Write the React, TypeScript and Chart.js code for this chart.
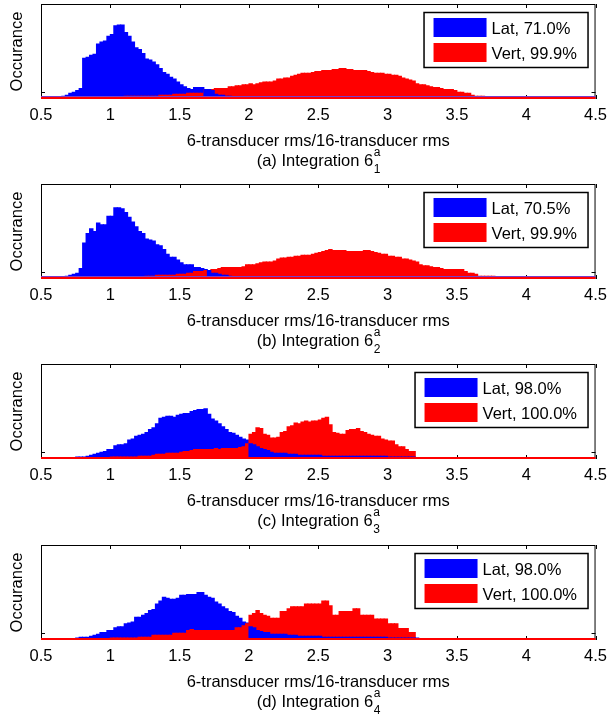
import React, { useEffect, useRef } from "react";
import { Chart, registerables } from "chart.js";

Chart.register(...registerables);

// Histogram bins: 160 bins of width 0.025 starting at 0.5
const BIN_START = 0.5;
const BIN_WIDTH = 0.025;
const N_BINS = 160;
const X_MIN = 0.5;
const X_MAX = 4.5;
const X_TICKS = [0.5, 1, 1.5, 2, 2.5, 3, 3.5, 4, 4.5];
const X_TICK_LABELS = ["0.5", "1", "1.5", "2", "2.5", "3", "3.5", "4", "4.5"];
const Y_MAX = 100;
const Y_TICKS = [7];

// Heights in percent of the axis height, one value per bin (trailing empty bins omitted)
const LAT_A = [
  0, 1, 1, 1, 2, 2, 3, 4, 6, 7, 9, 11, 43, 44, 46, 47, 58, 60, 61, 66,
  68, 77, 78, 78, 70, 66, 60, 54, 52, 48, 42, 41, 39, 36, 32, 28, 26, 23, 21, 18,
  15, 13, 11, 10, 12, 12, 12, 10, 10, 9, 5, 4, 4, 3, 3, 2, 2, 2, 2, 2,
  1, 1, 1, 1, 1, 1, 1, 1, 1,
];
const VERT_A = [
  1, 1, 1, 1, 1, 1, 1, 1, 1, 1, 1, 1, 1, 1, 1, 1, 2, 2, 2, 2,
  2, 2, 2, 2, 3, 3, 3, 3, 3, 3, 3, 3, 3, 3, 4, 4, 4, 4, 5, 5,
  5, 5, 6, 6, 6, 6, 6, 10, 10, 10, 11, 11, 11, 11, 13, 13, 14, 14, 15, 15,
  16, 15, 16, 17, 18, 18, 18, 19, 21, 21, 22, 22, 24, 25, 26, 27, 27, 27, 28, 29,
  29, 30, 30, 30, 31, 31, 32, 32, 31, 31, 30, 30, 30, 30, 29, 28, 27, 27, 27, 26,
  26, 25, 25, 24, 22, 21, 20, 19, 16, 15, 15, 14, 13, 12, 12, 11, 10, 10, 10, 9,
  7, 7, 6, 6, 4, 3, 3, 3, 2, 2, 2, 2, 2, 2, 2, 2, 1, 1, 1, 0,
];

const LAT_B = [
  1, 0, 0, 0, 1, 2, 2, 3, 4, 5, 6, 11, 38, 48, 53, 50, 59, 57, 57, 66,
  66, 75, 75, 74, 70, 65, 60, 55, 50, 48, 42, 41, 40, 36, 35, 31, 26, 23, 23, 20,
  17, 15, 15, 15, 12, 12, 11, 10, 9, 6, 6, 5, 4, 4, 3, 2, 2, 2, 2, 2,
  2, 2, 1, 1, 1, 1, 0, 0, 1, 1,
];
const VERT_B = [
  1, 1, 1, 1, 1, 1, 1, 1, 1, 1, 1, 1, 1, 1, 1, 1, 1, 1, 1, 1,
  2, 2, 2, 2, 2, 2, 2, 2, 2, 2, 3, 3, 3, 4, 4, 4, 4, 4, 4, 5,
  5, 5, 6, 6, 8, 8, 8, 9, 9, 10, 10, 11, 12, 12, 12, 12, 12, 12, 13, 15,
  15, 15, 16, 17, 18, 18, 18, 19, 21, 22, 22, 23, 23, 24, 24, 25, 25, 25, 26, 27,
  28, 29, 30, 31, 30, 30, 30, 30, 29, 29, 29, 29, 29, 30, 30, 29, 28, 27, 26, 26,
  24, 24, 23, 23, 21, 21, 20, 19, 18, 15, 14, 14, 13, 12, 12, 11, 10, 10, 10, 10,
  10, 10, 8, 6, 6, 5, 3, 3, 3, 3, 3, 2, 2, 2, 2, 2, 2, 2, 2, 2,
  1, 1, 1, 1, 1, 1, 1, 1, 1, 1, 1, 1,
];

const LAT_C = [
  0, 0, 0, 0, 0, 0, 0, 0, 0, 0, 2, 2, 2, 3, 4, 5, 6, 7, 8, 10,
  10, 14, 15, 15, 16, 20, 21, 24, 25, 26, 28, 31, 33, 37, 43, 44, 45, 45, 44, 46,
  47, 48, 48, 50, 51, 52, 52, 53, 47, 42, 40, 37, 34, 31, 28, 27, 25, 23, 21, 20,
  16, 15, 13, 11, 10, 9, 7, 6, 6, 6, 6, 5, 5, 5, 4, 4, 4, 4, 4, 4,
  4, 3, 3, 3, 3, 3, 3, 3, 3, 3, 3, 3, 3, 3, 3, 3, 3, 3, 3, 3,
  2, 2, 2, 2, 2, 2, 2, 2, 1, 1, 1, 1, 1, 1, 1, 1, 1, 1, 1, 1,
  1, 1, 1, 1,
];
const VERT_C = [
  0, 0, 0, 0, 0, 0, 0, 0, 0, 0, 1, 1, 1, 1, 1, 1, 1, 1, 1, 1,
  2, 2, 2, 2, 2, 2, 2, 2, 3, 3, 3, 3, 4, 5, 5, 5, 6, 6, 6, 6,
  7, 8, 8, 9, 10, 10, 10, 10, 10, 10, 11, 10, 11, 11, 11, 11, 11, 12, 13, 16,
  26, 28, 33, 32, 26, 25, 22, 22, 23, 28, 29, 34, 35, 38, 37, 39, 40, 39, 40, 40,
  41, 43, 44, 36, 28, 27, 26, 26, 30, 31, 31, 32, 29, 28, 26, 25, 24, 24, 21, 20,
  19, 19, 15, 13, 13, 10, 8, 8,
];

const LAT_D = [
  0, 0, 0, 0, 0, 0, 0, 0, 0, 0, 2, 3, 3, 3, 4, 5, 6, 8, 8, 10,
  10, 13, 14, 14, 17, 18, 19, 24, 24, 26, 28, 31, 32, 38, 41, 45, 44, 43, 43, 44,
  47, 47, 48, 48, 48, 50, 50, 47, 45, 44, 40, 38, 35, 33, 30, 29, 25, 23, 19, 18,
  14, 13, 10, 9, 8, 8, 6, 6, 6, 6, 6, 5, 5, 5, 4, 4, 4, 4, 4, 4,
  4, 3, 3, 3, 3, 3, 3, 3, 3, 3, 3, 3, 3, 3, 3, 3, 3, 3, 3, 3,
  2, 2, 2, 2, 2, 2, 2, 2, 2, 1, 1, 1, 1, 1, 1, 1, 1, 1, 1, 1,
  1, 1, 1, 0, 1, 1,
];
const VERT_D = [
  0, 0, 0, 0, 0, 0, 0, 0, 0, 0, 1, 1, 1, 1, 1, 1, 1, 1, 1, 1,
  2, 2, 2, 2, 2, 2, 2, 2, 3, 3, 3, 3, 5, 5, 5, 5, 5, 5, 7, 7,
  7, 7, 10, 11, 10, 10, 10, 10, 10, 10, 10, 10, 10, 10, 10, 10, 13, 13, 15, 17,
  26, 28, 31, 28, 26, 25, 23, 23, 23, 30, 30, 33, 35, 35, 35, 35, 38, 38, 38, 38,
  38, 41, 41, 36, 26, 26, 30, 30, 30, 30, 33, 33, 26, 26, 26, 26, 22, 22, 22, 22,
  17, 17, 17, 12, 12, 12, 8, 8,
];

const LAT_SERIES = [LAT_A, LAT_B, LAT_C, LAT_D];
const VERT_SERIES = [VERT_A, VERT_B, VERT_C, VERT_D];
const SERIES_NAMES = ["Lat", "Vert"];
const LAT_SHARE = ["71.0%", "70.5%", "98.0%", "98.0%"];
const VERT_SHARE = ["99.9%", "99.9%", "100.0%", "100.0%"];
const PANEL_LETTERS = ["a", "b", "c", "d"];
const PANEL_SUBSCRIPTS = ["1", "2", "3", "4"];
const CAPTION_TEXT = "Integration 6";
const CAPTION_SUP = "a";
const X_TITLE = "6-transducer rms/16-transducer rms";
const Y_TITLE = "Occurance";

// Styling and placement
const BLUE = "#0000ff";
const RED = "#ff0000";
const FONT = '"Liberation Sans", Arial, Helvetica, sans-serif';
const FONT_SIZE = 16.5;
const SMALL_FONT_SIZE = 12;
const PANEL_TOPS = [0, 180, 360, 541];
const PANEL_HEIGHTS = [180, 180, 181, 175];
const PLOT_LEFT = 41;
const PLOT_RIGHT = 602;
const PLOT_TOP = 4;
const PLOT_HEIGHT = 95;
const TICK_LEN = 4;
const BASELINE_TINT = ["#7a3cc8", "#7a3cc8", null, null];

const fillBins = (arr: number[]) =>
  Array.from({ length: N_BINS }, (_, i) => (arr[i] !== undefined ? arr[i] : 0));

function makeDecor(idx: number) {
  return {
    id: "decor" + idx,
    beforeDatasetsDraw(chart: any) {
      const { ctx, chartArea, scales } = chart;
      const { left, right, top, bottom } = chartArea;
      ctx.save();
      ctx.strokeStyle = "#000";
      ctx.lineWidth = 1;
      ctx.beginPath();
      for (const t of scales.x.ticks) {
        const px = Math.round(scales.x.getPixelForValue(t.value)) + 0.5;
        ctx.moveTo(px, top);
        ctx.lineTo(px, top + TICK_LEN);
        ctx.moveTo(px, bottom);
        ctx.lineTo(px, bottom - TICK_LEN);
      }
      for (const v of Y_TICKS) {
        const py = Math.round(scales.y.getPixelForValue(v)) + 0.5;
        ctx.moveTo(left, py);
        ctx.lineTo(left + TICK_LEN, py);
        ctx.moveTo(right, py);
        ctx.lineTo(right - TICK_LEN, py);
      }
      ctx.stroke();
      ctx.restore();
    },
    afterDatasetsDraw(chart: any) {
      const { ctx, chartArea } = chart;
      const { left, right, top, bottom } = chartArea;
      ctx.save();
      // axes box
      ctx.strokeStyle = "#000";
      ctx.lineWidth = 1;
      ctx.strokeRect(left + 0.5, top + 0.5, right - left - 1, bottom - top - 1);
      // zero-height bins along the base
      const tint = BASELINE_TINT[idx];
      if (tint) {
        ctx.fillStyle = tint;
        ctx.fillRect(left, bottom - 3, right - left, 1);
      }
      ctx.fillStyle = RED;
      ctx.fillRect(left, bottom - 2, right - left, 2);

      // legend
      ctx.font = `${FONT_SIZE}px ${FONT}`;
      const labels = [
        `${SERIES_NAMES[0]}, ${LAT_SHARE[idx]}`,
        `${SERIES_NAMES[1]}, ${VERT_SHARE[idx]}`,
      ];
      const tw = Math.max(...labels.map((l) => ctx.measureText(l).width));
      const boxW = Math.round(10 + 53 + 5 + tw + 11);
      const bx = right - 8 - boxW;
      const by = top + 8;
      const bh = 55;
      ctx.fillStyle = "#fff";
      ctx.fillRect(bx, by, boxW, bh);
      ctx.lineWidth = 1.5;
      ctx.strokeStyle = "#000";
      ctx.strokeRect(bx + 0.5, by + 0.5, boxW, bh);
      const colors = [BLUE, RED];
      ctx.textAlign = "left";
      ctx.textBaseline = "middle";
      labels.forEach((l, k) => {
        ctx.fillStyle = colors[k];
        ctx.fillRect(bx + 10, by + 6 + 25 * k, 53, 19);
        ctx.fillStyle = "#000";
        ctx.fillText(l, bx + 68, by + 17 + 25 * k);
      });

      // axis titles and caption
      ctx.fillStyle = "#000";
      ctx.font = `${FONT_SIZE}px ${FONT}`;
      ctx.textAlign = "center";
      ctx.textBaseline = "middle";
      const cx = (left + right) / 2;
      ctx.fillText(X_TITLE, cx, bottom + 42.5);

      const main = `(${PANEL_LETTERS[idx]}) ${CAPTION_TEXT}`;
      const mw = ctx.measureText(main).width;
      ctx.font = `${SMALL_FONT_SIZE}px ${FONT}`;
      const sw = Math.max(
        ctx.measureText(CAPTION_SUP).width,
        ctx.measureText(PANEL_SUBSCRIPTS[idx]).width
      );
      const sx = cx - (mw + sw) / 2;
      const capY = bottom + 62.5;
      ctx.textAlign = "left";
      ctx.font = `${FONT_SIZE}px ${FONT}`;
      ctx.fillText(main, sx, capY);
      ctx.font = `${SMALL_FONT_SIZE}px ${FONT}`;
      ctx.fillText(CAPTION_SUP, sx + mw + 0.5, capY - 8.5);
      ctx.fillText(PANEL_SUBSCRIPTS[idx], sx + mw + 0.5, capY + 8.5);

      ctx.font = `${FONT_SIZE}px ${FONT}`;
      ctx.textAlign = "center";
      ctx.translate(17, (top + bottom) / 2);
      ctx.rotate(-Math.PI / 2);
      ctx.fillText(Y_TITLE, 0, 0);
      ctx.restore();
    },
  };
}

function Panel({ idx }: { idx: number }) {
  const ref = useRef<HTMLCanvasElement>(null);
  const height = PANEL_HEIGHTS[idx];

  useEffect(() => {
    const canvas = ref.current;
    if (!canvas) return;
    const lat = fillBins(LAT_SERIES[idx]);
    const vert = fillBins(VERT_SERIES[idx]);
    const centers = lat.map((_, i) => BIN_START + (i + 0.5) * BIN_WIDTH);
    // the shorter bar of each bin is drawn over the taller one
    const lower = centers.map((x, i) => ({ x, y: Math.min(lat[i], vert[i]) || null }));
    const upper = centers.map((x, i) => ({ x, y: Math.max(lat[i], vert[i]) || null }));
    const lowerColors = lat.map((v, i) => (v <= vert[i] ? BLUE : RED));
    const upperColors = lat.map((v, i) => (v > vert[i] ? BLUE : RED));
    const barOpts = {
      grouped: false,
      barPercentage: 1,
      categoryPercentage: 1,
      borderWidth: 0,
      inflateAmount: 0.5,
    };
    const xAxisHeight = height - PLOT_TOP - PLOT_HEIGHT;

    const chart = new Chart(canvas, {
      type: "bar",
      data: {
        datasets: [
          { label: "lower", data: lower as any, backgroundColor: lowerColors, ...barOpts },
          { label: "upper", data: upper as any, backgroundColor: upperColors, ...barOpts },
        ],
      },
      options: {
        animation: false,
        responsive: false,
        devicePixelRatio: 1,
        layout: { padding: { left: PLOT_LEFT, right: 614 - PLOT_RIGHT, top: PLOT_TOP, bottom: 0 } },
        plugins: { legend: { display: false }, tooltip: { enabled: false } },
        scales: {
          x: {
            type: "linear",
            min: X_MIN,
            max: X_MAX,
            offset: false,
            grid: { display: false, drawTicks: false, offset: false },
            border: { display: false },
            ticks: {
              color: "#000",
              padding: 7,
              maxRotation: 0,
              autoSkip: false,
              font: { family: FONT, size: FONT_SIZE },
              callback: (_v: any, i: number) => X_TICK_LABELS[i],
            },
            afterBuildTicks: (s: any) => {
              s.ticks = X_TICKS.map((v) => ({ value: v }));
            },
            afterFit: (s: any) => {
              s.height = xAxisHeight;
            },
          },
          y: { type: "linear", min: 0, max: Y_MAX, display: false },
        },
      } as any,
      plugins: [makeDecor(idx)],
    });
    return () => chart.destroy();
  }, [idx, height]);

  return (
    <canvas
      ref={ref}
      width={614}
      height={height}
      style={{ position: "absolute", left: 0, top: PANEL_TOPS[idx], width: 614, height }}
    />
  );
}

export default function App() {
  return (
    <div style={{ position: "absolute", left: 0, top: 0, width: 614, height: 716, background: "#fff" }}>
      {PANEL_LETTERS.map((_, i) => (
        <Panel key={i} idx={i} />
      ))}
    </div>
  );
}
